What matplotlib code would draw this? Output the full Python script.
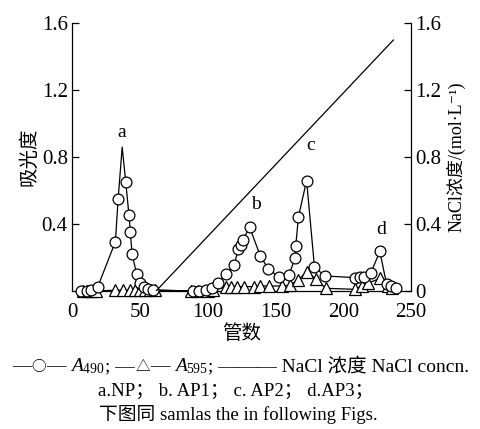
import matplotlib
matplotlib.use("Agg")
import matplotlib.pyplot as plt
from matplotlib.offsetbox import TextArea, HPacker, AnchoredOffsetbox

plt.rcParams['font.family'] = ['Liberation Serif', 'Noto Sans CJK SC', 'DejaVu Sans']
plt.rcParams['mathtext.fontset'] = 'custom'
plt.rcParams['mathtext.rm'] = 'Liberation Serif'
plt.rcParams['mathtext.it'] = 'Liberation Serif:italic'

# ---- data ----
a490_x = [7, 11, 14, 19, 32, 34, 37, 39.6, 42, 43, 44.3, 47.7, 50.3, 52.8, 56, 59.6,
          89, 94, 98.7, 103.6, 108, 113.4, 119.5, 122.7, 124.4, 126, 131, 139, 144.7,
          152.8, 159.8, 164.5, 165, 167, 173, 178.8, 186.5, 208.5, 212.4, 215, 220.4,
          227, 232, 235.6, 238.8]
a490_y = [0, 0, 0.005, 0.025, 0.295, 0.548, 0.86, 0.653, 0.454, 0.355, 0.219, 0.102,
          0.046, 0.022, 0.01, 0.006,
          0, 0, 0.005, 0.015, 0.05, 0.1, 0.155, 0.25, 0.275, 0.305, 0.38, 0.207, 0.133,
          0.081, 0.093, 0.195, 0.269, 0.444, 0.66, 0.143, 0.09, 0.08, 0.082, 0.086, 0.108,
          0.237, 0.04, 0.03, 0.016]
a490_nomarker = [6]

a595_x = [8, 11, 14, 18, 31.5, 37.6, 42.5, 46.2, 50, 53.5, 57.2, 61, 88, 93, 100, 104,
          113.4, 117, 122, 127, 134, 139, 145, 155, 161, 166.5, 173.5, 179.6, 187.2,
          208.7, 213.6, 218.5, 227, 233, 236]
a595_y = [0, 0, 0, 0, 0.005, 0.005, 0.005, 0.005, 0.005, 0.005, 0.005, 0.005, 0, 0, 0, 0.005,
          0.026, 0.026, 0.026, 0.026, 0.026, 0.03, 0.03, 0.03, 0.036, 0.066, 0.115, 0.073, 0.016,
          0.01, 0.03, 0.046, 0.076, 0.03, 0.02]

nacl_x = [62, 237]
nacl_y = [0, 1.5]

peak_labels = ['a', 'b', 'c', 'd']
peak_x = [37, 135.4, 175.7, 228]
peak_y = [0.95, 0.514, 0.87, 0.365]

left_ticks = [0.4, 0.8, 1.2, 1.6]
right_ticks = [0, 0.4, 0.8, 1.2, 1.6]
right_ticklabels = ['0', '0.4', '0.8', '1.2', '1.6']
x_ticks = [0, 50, 100, 150, 200, 250]

fig = plt.figure(figsize=(4.81, 4.29), dpi=100)
ax = fig.add_axes([0.1497, 0.3217, 0.7048, 0.624])
ax2 = ax.twinx()

mark_idx = [i for i in range(len(a490_x)) if i not in a490_nomarker]
ax.plot(a490_x, a490_y, color='black', lw=0.9, marker='o', ms=7.8, mfc='white',
        mec='black', mew=0.9, markevery=mark_idx, clip_on=False, zorder=4)
ax.plot(a595_x, a595_y, color='black', lw=0.9, marker='^', ms=8, mfc='white',
        mec='black', mew=0.9, clip_on=False, zorder=3)
ax2.plot(nacl_x, nacl_y, color='black', lw=0.9)

for t, x, y in zip(peak_labels, peak_x, peak_y):
    ax.text(x, y, t, ha='center', va='center', fontsize=14)

ax.set_xlim(0, 250)
ax.set_ylim(0, 1.6)
ax2.set_ylim(0, 1.6)
ax.set_xticks(x_ticks)
ax.set_yticks(left_ticks)
ax.set_yticklabels([str(v) for v in left_ticks])
ax2.set_yticks(right_ticks)
ax2.set_yticklabels(right_ticklabels)

for a in (ax, ax2):
    a.spines['top'].set_visible(False)
    for s in a.spines.values():
        s.set_linewidth(0.9)
ax.spines['right'].set_visible(False)
ax2.spines['left'].set_visible(False)
ax2.spines['bottom'].set_visible(False)

ax.tick_params(axis='y', direction='in', length=5, width=0.9, labelsize=15, pad=3)
ax.tick_params(axis='x', length=0, labelsize=15, pad=9)
ax2.tick_params(axis='y', direction='in', length=5, width=0.9, labelsize=15, pad=3)

ax.set_ylabel('吸光度', fontsize=14, labelpad=2)
ax2.set_ylabel('NaCl浓度/(mol·L⁻¹)', fontsize=13, labelpad=4)
ax.set_xlabel('管数', fontsize=14, labelpad=1)

fs = 13.5
fs1 = 14
def ta(s, **kw):
    props = dict(fontsize=fs1)
    props.update(kw)
    return TextArea(s, textprops=props)

cjk = 'Noto Sans CJK SC'
line1 = HPacker(children=[ta('—'), ta('○', family=cjk, fontsize=fs1 * 0.75), ta('— '),
                          ta('$A_{490}$'),
                          ta('; —'), ta('△', family=cjk, fontsize=fs1 * 0.75), ta('— '),
                          ta('$A_{595}$'),
                          ta('; ——— NaCl 浓度 NaCl concn.')],
                align='baseline', pad=0, sep=0)
ab1 = AnchoredOffsetbox(loc='center', child=line1, frameon=False,
                        bbox_to_anchor=(0.5, 1 - 366 / 429), bbox_transform=fig.transFigure,
                        pad=0, borderpad=0)
fig.add_artist(ab1)
fig.text(0.49, 1 - 391 / 429, 'a.NP； b. AP1； c. AP2； d.AP3；', ha='center', va='center',
         fontsize=fs)
fig.text(0.495, 1 - 414 / 429, '下图同 samlas the in following Figs.', ha='center', va='center',
         fontsize=fs)

fig.savefig('out.png', dpi=100)
